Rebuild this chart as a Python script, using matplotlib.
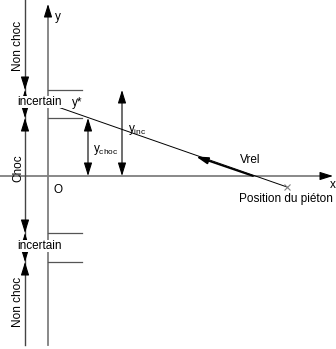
import matplotlib.pyplot as plt

plt.rcParams['font.family'] = ['Liberation Sans', 'DejaVu Sans']

# zone boundaries along the left scale (pixel rows of the sketch)
zone_edges = [0, 90, 118, 233, 262, 345]
zone_labels = ['Non choc', 'incertain', 'Choc', 'incertain', 'Non choc']
zone_rotation = [90, 0, 90, 0, 90]
zone_label_y = [46, 102, 168, 246, 302]

# origin and axis ends
origin = (48, 176)
x_axis_end = 333
y_axis_end = 4
y_axis_bottom = 345

# trajectory of the pedestrian (start at y*, end at pedestrian position)
traj_x = [55, 287]
traj_y = [106, 187]
vrel_from = (253, 176)
vrel_to = (196, 156.5)

# heights of the two dimension arrows
dim_x = [88, 122]
dim_top = [118, 90]

fig = plt.figure(figsize=(3.36, 3.49), dpi=100)
ax = fig.add_axes([0, 0, 1, 1])
ax.set_xlim(0, 336)
ax.set_ylim(349, 0)
ax.axis('off')

grey = '#7f7f7f'
fs = 8.5
ahead = dict(arrowstyle='-|>,head_length=0.8,head_width=0.25', color='black', lw=0.8, shrinkA=0, shrinkB=0)
dbl = dict(arrowstyle='<|-|>,head_length=0.8,head_width=0.25', color='black', lw=0.8, shrinkA=0, shrinkB=0)

# axes
ax.plot([0, x_axis_end - 4], [origin[1], origin[1]], color=grey, lw=1.3)
ax.annotate('', xy=(x_axis_end, origin[1]), xytext=(x_axis_end - 8, origin[1]), arrowprops=ahead)
ax.plot([origin[0], origin[0]], [y_axis_bottom, y_axis_end + 6], color=grey, lw=1.3)
ax.annotate('', xy=(origin[0], y_axis_end), xytext=(origin[0], y_axis_end + 10), arrowprops=ahead)
ax.text(55, 17, 'y', fontsize=fs, va='center')
ax.text(330, 185.5, 'x', fontsize=fs, va='center')
ax.text(53, 190, 'O', fontsize=fs, va='center')

# left scale with zones
lx = 25
ax.plot([lx, lx], [zone_edges[0], zone_edges[-1]], color='#444444', lw=1.0)
for i, lab in enumerate(zone_labels):
    a, b = zone_edges[i], zone_edges[i + 1]
    if i > 0:
        ax.annotate('', xy=(lx, a), xytext=(lx, a + 10), arrowprops=ahead)
    if i < len(zone_labels) - 1:
        ax.annotate('', xy=(lx, b), xytext=(lx, b - 10), arrowprops=ahead)
    if zone_rotation[i] == 90:
        ax.text(lx - 7, zone_label_y[i], lab, fontsize=fs, rotation=90,
                ha='center', va='center')
    else:
        ax.text(lx + 15, zone_label_y[i], lab, fontsize=fs, ha='center', va='center',
                bbox=dict(boxstyle='square,pad=0', fc='white', ec='none'))

# short level lines
for yy in zone_edges[1:5]:
    ax.plot([origin[0], 82], [yy, yy], color='#555555', lw=0.9)

# trajectory
ax.plot(traj_x, traj_y, color='black', lw=0.7)
ax.annotate('', xy=vrel_to, xytext=vrel_from,
            arrowprops=dict(arrowstyle='-|>,head_length=0.7,head_width=0.2', color='black', lw=1.3,
                            shrinkA=0, shrinkB=0))
ax.plot(traj_x[1], traj_y[1], marker='x', color=grey, ms=4, mew=0.8)
ax.text(240, 160, 'Vrel', fontsize=fs, va='center')
ax.text(239, 199, 'Position du piéton', fontsize=fs, va='center')
ax.text(72, 103, 'y*', fontsize=fs, va='center')

# dimension arrows
for xx, top in zip(dim_x, dim_top):
    ax.annotate('', xy=(xx, top), xytext=(xx, origin[1]), arrowprops=dbl)
ax.text(93, 150, r'y$_{\mathregular{choc}}$', fontsize=fs, va='center')
ax.text(128, 130, r'y$_{\mathregular{inc}}$', fontsize=fs, va='center')

fig.savefig('out.png', dpi=100)
